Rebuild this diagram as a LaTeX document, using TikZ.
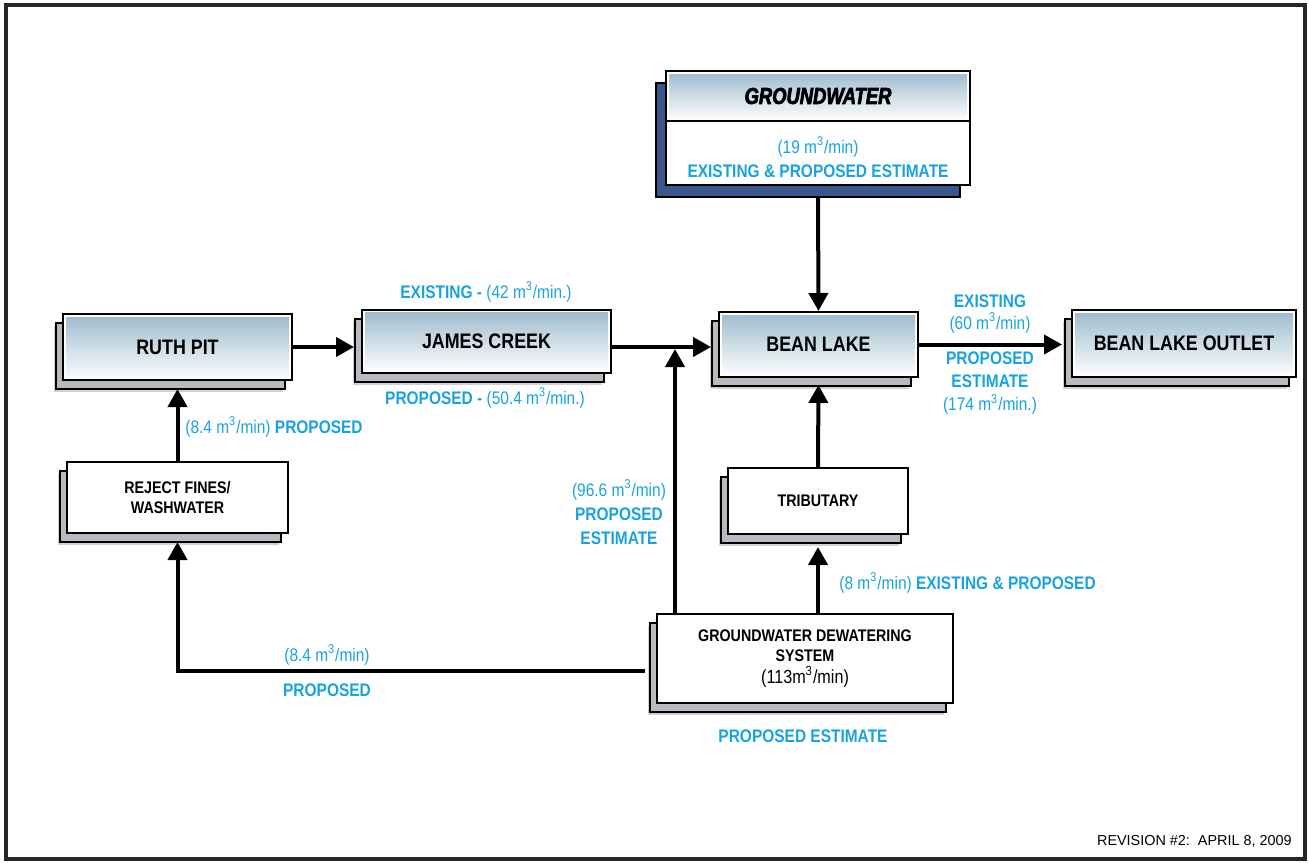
\documentclass[tikz,border=0pt]{standalone}
\usepackage{fontspec}
\setmainfont{Liberation Sans}
\newfontfamily\narrowfont[FakeStretch=0.85]{Liberation Sans}
\newfontfamily\heavyfont[UprightFont={* Bold Italic}, FakeStretch=0.8, FakeBold=3]{Liberation Sans}
\usetikzlibrary{arrows.meta, shadows}

\definecolor{flowcyan}{RGB}{24,163,222}
\definecolor{steelblue}{RGB}{155,186,204}
\definecolor{backgrey}{RGB}{184,186,191}
\definecolor{backblue}{RGB}{58,86,140}

\begin{document}
\begin{tikzpicture}[
            x=0.5pt, y=-0.5pt,
            box/.style={rectangle, draw, line width=1pt, fill=white, inner sep=0pt, align=center},
            sky/.style={path picture={\shade[top color=steelblue, bottom color=white]
                ([shift={(1.5pt,-1.5pt)}]path picture bounding box.north west) rectangle
                ([shift={(-1.5pt,1.5pt)}]path picture bounding box.south east);}},
            haze/.style={drop shadow={shadow xshift=-4.5pt, shadow yshift=-6pt, opacity=.3, fill=black!60}},
            stack/.style={haze, copy shadow={shadow xshift=-3.5pt, shadow yshift=-4.5pt, fill=backgrey, draw=black, line width=1pt}},
            title_block/.style={box, sky, stack, font=\narrowfont\bfseries\fontsize{10.5}{12}\selectfont},
            plain_block/.style={box, stack, font=\narrowfont\bfseries\fontsize{8.4}{10}\selectfont},
            rate/.style={text=flowcyan, align=center, inner sep=1pt, font=\narrowfont\bfseries\fontsize{9.1}{12}\selectfont},
            flow/.style={draw, line width=2pt, -{Triangle[length=9pt, width=9.5pt]}}
        ]
            \useasboundingbox (0,0) rectangle (1309,862);
            \draw[line width=1.8pt, black!85] (6,5) rectangle (1305,859);

            % --- Place the main nodes ---
            \node[title_block, minimum width=114.5pt, minimum height=33pt] (ruth) at (177.5,347) {RUTH PIT};
            \node[title_block, minimum width=124.5pt, minimum height=31.5pt] (james) at (486.5,341) {JAMES CREEK};
            \node[title_block, minimum width=99.5pt, minimum height=32.5pt] (bean) at (818.5,344.5) {BEAN LAKE};
            \node[title_block, minimum width=112pt, minimum height=33.5pt] (outlet) at (1184,343.5) {BEAN LAKE OUTLET};

            % Groundwater block with its title band
            \node[box, minimum width=152pt, minimum height=57pt, haze,
                  copy shadow={shadow xshift=-5pt, shadow yshift=-6pt, fill=backblue, draw=black, line width=1pt}] (groundwater) at (818,128) {};
            \node[box, sky, anchor=north, minimum width=152pt, minimum height=25pt,
                  font=\heavyfont\fontsize{11.5}{13}\selectfont] (gwtitle) at (groundwater.north) {GROUNDWATER};
            \node[rate] (gwrate) at (818,157) {{\mdseries(19 m\textsuperscript{3}/min)}\\EXISTING \& PROPOSED ESTIMATE};

            % --- Sources below the lake ---
            \node[plain_block, minimum width=110.5pt, minimum height=35.5pt] (reject) at (177.5,497.5) {REJECT FINES/\\WASHWATER};
            \node[plain_block, minimum width=90pt, minimum height=33pt] (tributary) at (818,501) {TRIBUTARY};
            \node[plain_block, minimum width=148pt, minimum height=44.5pt] (dewatering) at (805,658.5)
                {GROUNDWATER DEWATERING\\SYSTEM\\[1pt]{\mdseries\fontsize{9.5}{11}\selectfont(113m\textsuperscript{3}/min)}};

            % --- Flow rates ---
            \node[rate] (jamesnow) at (486,292) {EXISTING - {\mdseries(42 m\textsuperscript{3}/min.)}};
            \node[rate] (jamesplan) at (485,398) {PROPOSED - {\mdseries(50.4 m\textsuperscript{3}/min.)}};
            \node[rate, anchor=west] (pitrate) at (183,427) {{\mdseries(8.4 m\textsuperscript{3}/min)} PROPOSED};
            \node[rate] (mergerate) at (619,512) {{\mdseries(96.6 m\textsuperscript{3}/min)}\\PROPOSED\\ESTIMATE};
            \node[rate, font=\narrowfont\bfseries\fontsize{9.1}{11}\selectfont] (outletnow) at (990,314) {EXISTING\\{\mdseries(60 m\textsuperscript{3}/min)}};
            \node[rate, font=\narrowfont\bfseries\fontsize{9.1}{11.5}\selectfont] (outletplan) at (990,383.5) {PROPOSED\\ESTIMATE\\{\mdseries(174 m\textsuperscript{3}/min.)}};
            \node[rate, anchor=west] (tribrate) at (837,583) {{\mdseries(8 m\textsuperscript{3}/min)} EXISTING \& PROPOSED};
            \node[rate] (rejectrate) at (327,655) {\mdseries(8.4 m\textsuperscript{3}/min)};
            \node[rate] (rejectplan) at (327,690) {PROPOSED};
            \node[rate] (dewaterplan) at (803,736) {PROPOSED ESTIMATE};

            \node[anchor=east, inner sep=0pt, font=\fontsize{7.2}{9}\selectfont] (revision) at (1292,841) {REVISION \#2:\ \ APRIL 8, 2009};

            % --- Connect the flows ---
            \coordinate (merge) at (675,347);
            \draw[flow] ([yshift=-6pt]groundwater.south) -- (bean.north);
            \draw[flow, shorten >=3.5pt] (ruth.east) -- (ruth.east -| james.west);
            \draw[flow, shorten >=3.5pt] (james.east |- merge) -- (bean.west |- merge);
            \draw[flow, shorten >=4.5pt] (bean.east) -- (bean.east -| outlet.west);
            \draw[flow] (dewatering.north -| merge) -- ([yshift=-1pt]merge);
            \draw[flow, shorten >=6pt] (dewatering.north -| tributary.south) -- (tributary.south);
            \draw[flow, shorten >=3.5pt] (tributary.north) -- (bean.south);
            \draw[flow, shorten >=4pt] (reject.north) -- (ruth.south);
            \draw[flow, shorten <=5.5pt, shorten >=4pt] ([yshift=-6.25pt]dewatering.west) -| (reject.south);

        \end{tikzpicture}
\end{document}
